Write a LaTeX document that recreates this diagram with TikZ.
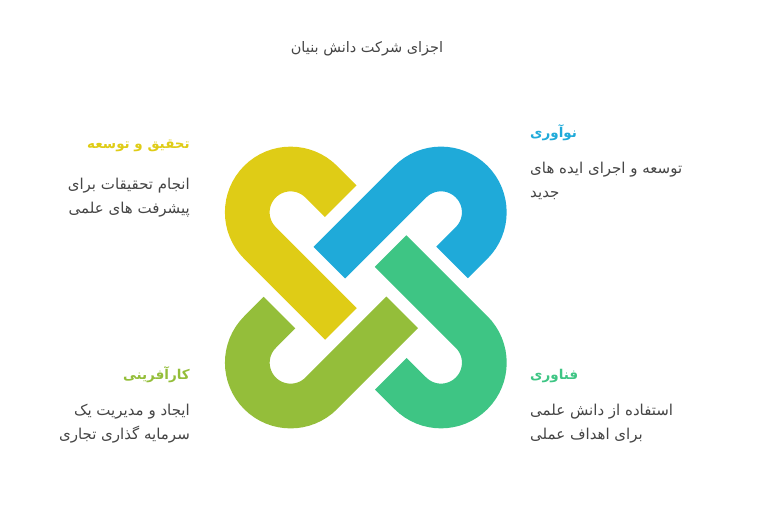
\documentclass[tikz,border=0pt]{standalone}
\usepackage{fontspec}
\newfontfamily\farsi[Script=Arabic]{DejaVu Sans}
\TeXXeTstate=1
\usetikzlibrary{positioning}

\definecolor{linkyellow}{HTML}{DFCC16}
\definecolor{linkblue}{HTML}{1FAAD9}
\definecolor{linkgreen}{HTML}{3EC584}
\definecolor{linkolive}{HTML}{94BE3A}
\definecolor{textgray}{HTML}{454545}

\begin{document}
\begin{tikzpicture}[x=1pt, y=1pt,
    link/.style={line width=44.7pt, line cap=butt},
    head/.style={font=\farsi\bfseries\fontsize{13.5}{16}\selectfont, inner sep=0pt},
    body/.style={font=\farsi\fontsize{15}{24}\selectfont, text=textgray, inner sep=0pt}]
    \useasboundingbox (0,0) rectangle (757,504);
    % the four interlocked links
    \foreach \col/\ang in {linkyellow/0, linkblue/-90, linkgreen/180, linkolive/90}{
        \begin{scope}[shift={(365.8,216.5)}, rotate=\ang]
            \draw [link, draw=\col] (-25.1,86.3) -- (-44.6,105.8)
                arc[start angle=45, end angle=225, radius=43.3] -- (-24.8,-36.4);
        \end{scope}
    }
    \node [font=\farsi\fontsize{14.5}{16}\selectfont, text=textgray] (title) at (367,455) {\beginR اجزای شرکت دانش بنیان\endR};
    \node [head, text=linkyellow, anchor=east] (research) at (190,358) {\beginR تحقیق و توسعه\endR};
    \node [body, align=right, below=26pt of research.south east, anchor=north east] (researchtext)
        {\beginR انجام تحقیقات برای\endR\\\beginR پیشرفت های علمی\endR};
    \node [head, text=linkblue, anchor=west] (innovation) at (530,371) {\beginR نوآوری\endR};
    \node [body, align=left, below=21pt of innovation.south west, anchor=north west] (innovationtext)
        {\beginR توسعه و اجرای ایده های\endR\\\beginR جدید\endR};
    \node [head, text=linkolive, anchor=east] (venture) at (190,129) {\beginR کارآفرینی\endR};
    \node [body, align=right, below=21pt of venture.south east, anchor=north east] (venturetext)
        {\beginR ایجاد و مدیریت یک\endR\\\beginR سرمایه گذاری تجاری\endR};
    \node [head, text=linkgreen, anchor=west] (tech) at (530,128) {\beginR فناوری\endR};
    \node [body, align=left, below=21pt of tech.south west, anchor=north west] (techtext)
        {\beginR استفاده از دانش علمی\endR\\\beginR برای اهداف عملی\endR};
\end{tikzpicture}
\end{document}
